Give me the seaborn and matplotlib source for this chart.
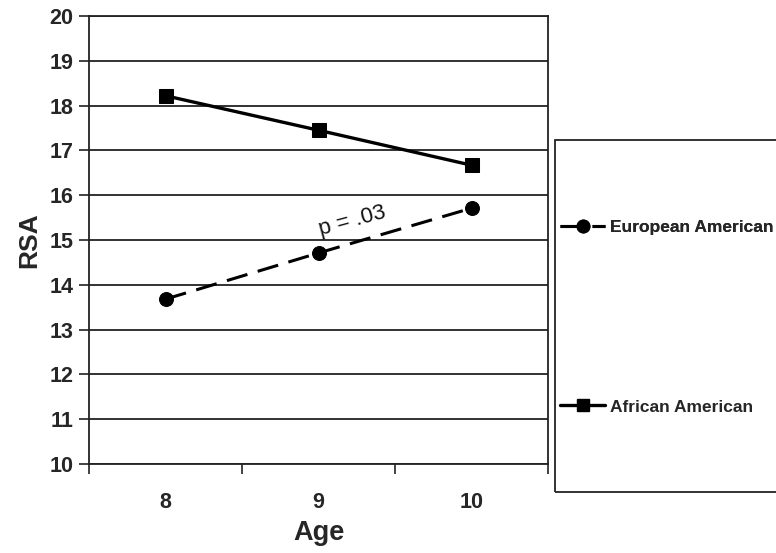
import matplotlib
matplotlib.use("Agg")
import matplotlib.pyplot as plt
import seaborn as sns
import pandas as pd
from matplotlib.patches import Rectangle
from matplotlib.lines import Line2D

ages = ["8", "9", "10"]
european = [13.68, 14.71, 15.71]
african = [18.22, 17.45, 16.67]
y_ticks = list(range(10, 21))
annotation = "p = .03"

sns.set_theme(style="white")
plt.rcParams["font.family"] = ["Liberation Sans", "DejaVu Sans"]

df = pd.DataFrame({
    "Age": ages * 2,
    "RSA": european + african,
    "Group": ["European American"] * 3 + ["African American"] * 3,
})

fig = plt.figure(figsize=(7.76, 5.53), dpi=100)
ax = fig.add_axes([89/776, 1-464/553, (548-89)/776, (464-16)/553])

sns.lineplot(data=df[df.Group == "European American"], x="Age", y="RSA", ax=ax,
             color="black", marker="o", markersize=10, linewidth=2.2,
             linestyle=(0, (7, 3.5)), markeredgecolor="black", legend=False)
sns.lineplot(data=df[df.Group == "African American"], x="Age", y="RSA", ax=ax,
             color="black", marker="s", markersize=10, linewidth=2.4,
             markeredgecolor="black", legend=False)

ax.set_xlim(-0.5, 2.5)
ax.set_ylim(10, 20)
ax.set_yticks(y_ticks)
ax.set_yticklabels([str(v) for v in y_ticks], fontsize=15.5, fontweight="bold")
ax.set_xticks([0, 1, 2])
ax.set_xticklabels(ages, fontsize=15.5, fontweight="bold")
ax.set_xticks([-0.5, 0.5, 1.5, 2.5], minor=True)
ax.tick_params(axis="x", which="major", bottom=True, length=0, pad=20)
ax.tick_params(axis="x", which="minor", bottom=True, length=7, width=1.2, color="#222222", direction="out")
ax.tick_params(axis="y", which="major", left=True, length=7, width=1.2, color="#222222", direction="out", pad=4)
for y in y_ticks:
    ax.axhline(y, color="#222222", lw=1.3, zorder=0)
for s in ax.spines.values():
    s.set_color("#222222")
    s.set_linewidth(1.3)
ax.set_xlabel("Age", fontsize=19.5, fontweight="bold", labelpad=5)
ax.set_ylabel("RSA", fontsize=19, fontweight="bold", labelpad=6)

ax.text(1.22, 15.42, annotation, fontsize=16, rotation=15, ha="center", va="center", color="#111111")

fig.patches.append(Rectangle((555/776, 1-492/553), 0.5, (492-140)/553,
                             transform=fig.transFigure, fill=False, lw=1.3,
                             edgecolor="#222222"))

h_eu = Line2D([], [], color="black", lw=2.2, linestyle=(0, (7, 3.5)), marker="o", markersize=9)
h_af = Line2D([], [], color="black", lw=2.4, marker="s", markersize=9)
leg1 = fig.legend([h_eu], ["European American"], loc="center left",
                  bbox_to_anchor=(560/776, 1-227/553), frameon=False,
                  prop={"weight": "bold", "size": 12.5}, handlelength=2.6,
                  handletextpad=0.3, borderpad=0, borderaxespad=0)
leg2 = fig.legend([h_af], ["African American"], loc="center left",
                  bbox_to_anchor=(560/776, 1-407/553), frameon=False,
                  prop={"weight": "bold", "size": 12.5}, handlelength=2.6,
                  handletextpad=0.3, borderpad=0, borderaxespad=0)
fig.add_artist(leg1)

fig.savefig("out.png", dpi=100)
